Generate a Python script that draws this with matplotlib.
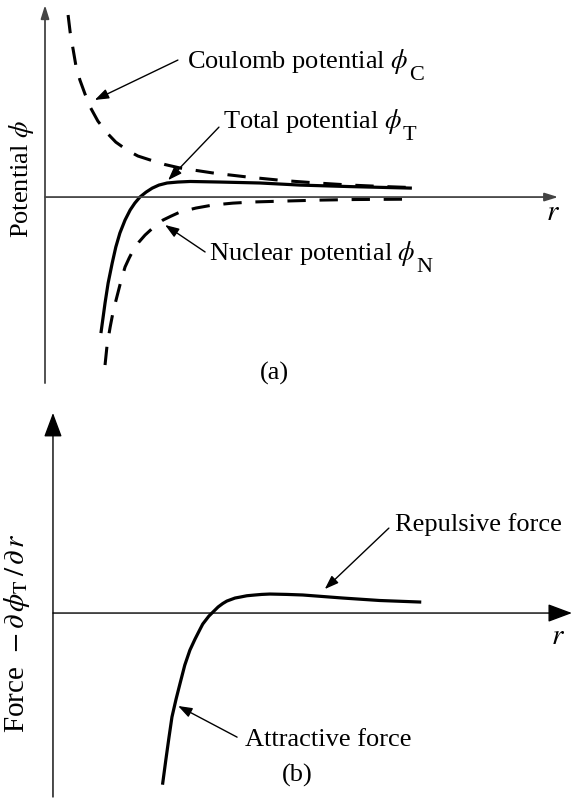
import matplotlib
matplotlib.use('Agg')
import matplotlib.pyplot as plt
import numpy as np

plt.rcParams['font.family'] = ['Liberation Serif', 'DejaVu Serif']
plt.rcParams['mathtext.fontset'] = 'stix'

# panel (a): potentials vs r (arbitrary units)
r_coulomb = [0.45, 0.49, 0.55, 0.60, 0.68, 0.78, 0.88, 1.03, 1.21, 1.38, 1.60,
             1.81, 2.05, 2.34, 2.63, 3.29, 3.96, 4.64, 5.30, 5.95, 6.63, 7.15]
phi_coulomb = [9.58, 8.68, 7.74, 6.95, 6.16, 5.42, 4.74, 4.00, 3.37, 2.89, 2.47,
               2.16, 1.95, 1.71, 1.53, 1.26, 1.05, 0.87, 0.74, 0.63, 0.55, 0.50]

r_total = [1.09, 1.13, 1.17, 1.23, 1.31, 1.38, 1.46, 1.56, 1.66, 1.75, 1.85,
           1.97, 2.09, 2.22, 2.38, 2.59, 2.83, 3.41, 4.19, 4.97, 5.95, 7.15]
phi_total = [-7.16, -6.37, -5.58, -4.53, -3.47, -2.63, -1.89, -1.21, -0.68, -0.32, 0.0,
             0.26, 0.47, 0.63, 0.74, 0.79, 0.82, 0.79, 0.74, 0.63, 0.55, 0.47]

r_nuclear = [1.17, 1.21, 1.27, 1.33, 1.40, 1.48, 1.56, 1.64, 1.72, 1.83, 1.95, 2.12,
             2.30, 2.46, 2.63, 2.94, 3.27, 3.66, 4.05, 4.68, 5.36, 6.04, 7.15]
phi_nuclear = [-8.84, -7.79, -6.84, -6.00, -5.26, -4.42, -3.68, -3.21, -2.79, -2.37, -2.00, -1.58,
               -1.21, -1.00, -0.79, -0.58, -0.42, -0.32, -0.26, -0.21, -0.16, -0.13, -0.11]

# panel (b): force -dphi_T/dr
r_force = [2.14, 2.20, 2.26, 2.32, 2.40, 2.48, 2.57, 2.67, 2.77, 2.87, 2.92, 2.98, 3.04,
           3.10, 3.16, 3.22, 3.31, 3.39, 3.47, 3.55, 3.65, 3.78, 3.94, 4.07, 4.23,
           4.56, 4.87, 5.65, 6.37, 7.15]
force = [-8.95, -7.74, -6.58, -5.47, -4.53, -3.68, -2.74, -1.95, -1.37, -0.84, -0.58, -0.37, -0.16,
         0.0, 0.16, 0.32, 0.50, 0.63, 0.71, 0.79, 0.84, 0.91, 0.95, 0.98, 1.00,
         0.98, 0.95, 0.79, 0.66, 0.58]

FS = 19
SUB_FS = 16


def axis_arrow(ax, start, end, color, lw, hl, hw, ms):
    ax.annotate('', xy=end, xytext=start,
                arrowprops=dict(arrowstyle='-|>,head_length=%g,head_width=%g' % (hl, hw),
                                color=color, lw=lw, mutation_scale=ms,
                                shrinkA=0, shrinkB=0))


def pointer(ax, tail, tip):
    ax.annotate('', xy=tip, xytext=tail,
                arrowprops=dict(arrowstyle='-|>,head_length=0.7,head_width=0.25',
                                color='k', lw=1.0, mutation_scale=12,
                                shrinkA=0, shrinkB=0))


def label_with_sub(ax, x, y, main, sub):
    # subscripts in the figure are bigger than mathtext's, so place them by hand
    t = ax.text(x, y, main, fontsize=FS, va='baseline')
    ax.annotate(sub, xy=(1, 0), xycoords=t, xytext=(0.5, -3),
                textcoords='offset points', fontsize=SUB_FS, va='baseline')


def main():
    fig = plt.figure(figsize=(5.73, 8.01), dpi=100)

    # (a) potentials
    axa = fig.add_axes([0, 401 / 801, 1, 400 / 801])
    axa.set_xlim(-0.877, 10.29)
    axa.set_ylim(-10.68, 10.37)
    axa.axis('off')

    axis_arrow(axa, (0, -9.79), (0, 10.1), '#444444', 1.3, 0.8, 0.25, 10)
    axis_arrow(axa, (0, 0), (10.0, 0), '#444444', 1.3, 0.8, 0.25, 10)

    axa.plot(r_coulomb, phi_coulomb, color='k', lw=2.2, dashes=(6, 4.5))
    axa.plot(r_nuclear, phi_nuclear, color='k', lw=2.2, dashes=(6, 4.5))
    axa.plot(r_total, phi_total, color='k', lw=2.3, solid_capstyle='butt')

    label_with_sub(axa, 2.77, 6.79, r'Coulomb potential $\phi$', 'C')
    pointer(axa, (2.59, 7.21), (0.97, 5.11))
    label_with_sub(axa, 3.47, 3.63, r'Total potential $\phi$', 'T')
    pointer(axa, (3.39, 3.68), (2.40, 0.89))
    label_with_sub(axa, 3.20, -3.32, r'Nuclear potential $\phi$', 'N')
    pointer(axa, (3.12, -2.89), (2.34, -1.47))

    axa.text(9.90, -0.84, r'$r$', fontsize=FS + 2, ha='center', va='center')
    axa.text(4.48, -9.26, '(a)', fontsize=FS, ha='center', va='center')
    axa.text(-0.45, 0.95, r'Potential $\phi$', fontsize=FS, rotation=90,
             ha='center', va='center')

    # (b) force
    axb = fig.add_axes([0, 0, 1, 401 / 801])
    axb.set_xlim(-1.033, 10.14)
    axb.set_ylim(-9.89, 11.21)
    axb.axis('off')

    axis_arrow(axb, (0, -9.68), (0, 10.53), 'k', 1.0, 0.75, 0.28, 20)
    axis_arrow(axb, (0, 0), (10.12, 0), 'k', 1.0, 0.75, 0.28, 20)

    axb.plot(r_force, force, color='k', lw=2.3)

    axb.text(6.67, 4.32, 'Repulsive force', fontsize=FS, va='baseline')
    pointer(axb, (6.55, 4.47), (5.30, 1.26))
    axb.text(3.74, -6.97, 'Attractive force', fontsize=FS, va='baseline')
    pointer(axb, (3.59, -6.53), (2.44, -4.89))

    axb.text(9.84, -1.26, r'$r$', fontsize=FS + 2, ha='center', va='center')
    axb.text(4.76, -8.53, '(b)', fontsize=FS, ha='center', va='center')
    axb.text(-0.70, -1.05, r'Force  $-\,\partial\,\phi_{\mathrm{T}}\,/\,\partial\, r$', fontsize=21,
             rotation=90, ha='center', va='center')

    fig.savefig('out.png', dpi=100)
    plt.close(fig)


main()
